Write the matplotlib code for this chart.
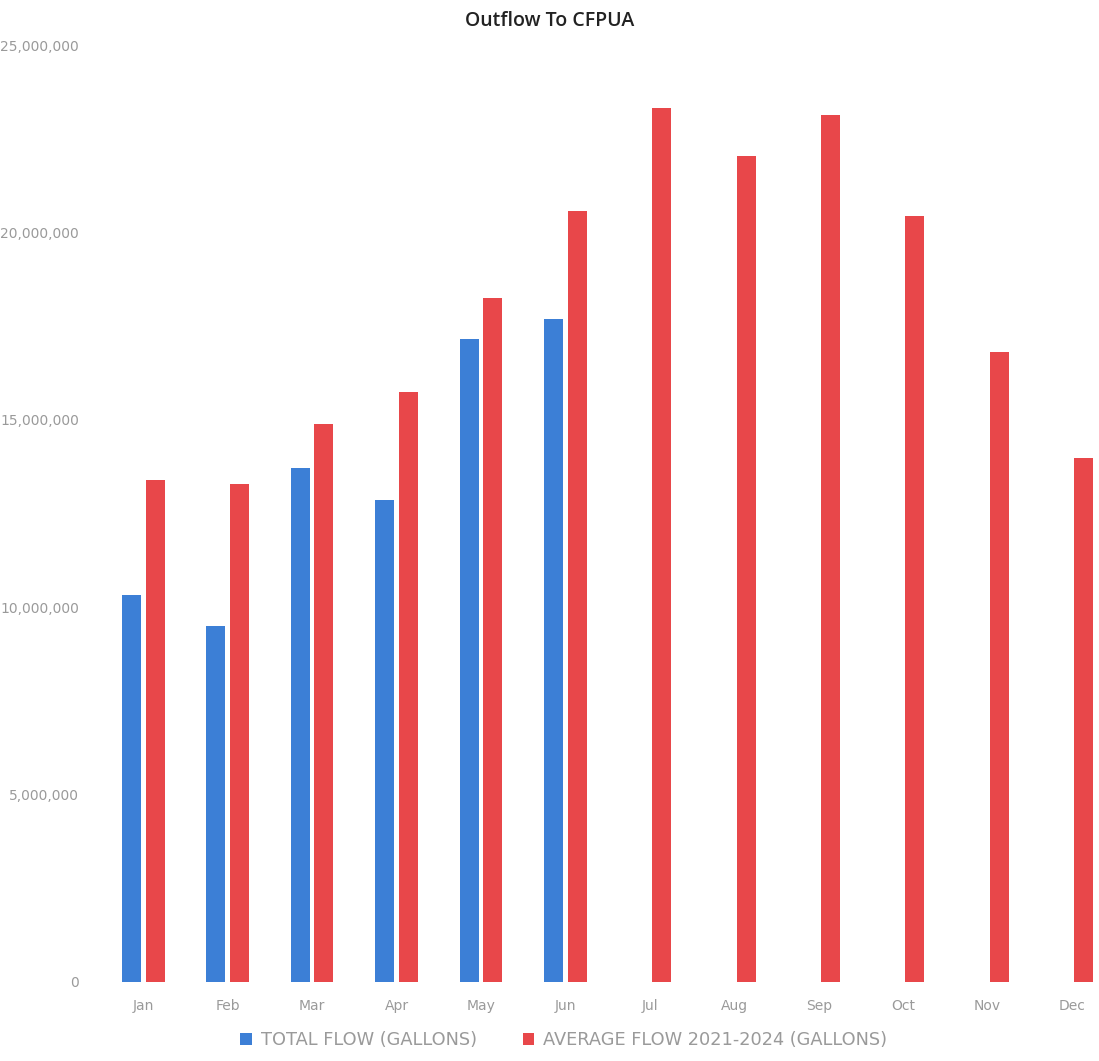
import numpy as np
import matplotlib
matplotlib.use('Agg')
from matplotlib import pyplot as plt
from matplotlib.ticker import FuncFormatter

months = ['Jan', 'Feb', 'Mar', 'Apr', 'May', 'Jun', 'Jul', 'Aug', 'Sep', 'Oct', 'Nov', 'Dec']
total_flow = [10.32e6, 9.49e6, 13.72e6, 12.86e6, 17.17e6, 17.70e6]
avg_flow = [13.40e6, 13.29e6, 14.89e6, 15.75e6, 18.26e6, 20.56e6,
            23.32e6, 22.03e6, 23.13e6, 20.45e6, 16.82e6, 13.98e6]

blue = '#3c7fd6'
red = '#e8474a'
grey = '#9a9a9a'

fig = plt.figure(figsize=(10.99, 10.61), dpi=100)
ax = fig.add_axes([0.092, 0.0745, 0.908, 0.883])

x = np.arange(len(months))
w = 0.225
off = 0.14
ax.bar(x[:len(total_flow)] - off, total_flow, w, color=blue, label='TOTAL FLOW (GALLONS)')
ax.bar(x + off, avg_flow, w, color=red, label='AVERAGE FLOW 2021-2024 (GALLONS)')

ax.set_xlim(-0.5, 11.32)
ax.set_ylim(0, 25e6)
ax.set_yticks(np.arange(0, 25e6 + 1, 5e6))
ax.yaxis.set_major_formatter(FuncFormatter(lambda v, p: f'{int(v):,}'))
ax.set_xticks(x)
ax.set_xticklabels(months)
ax.tick_params(length=0, colors=grey, labelsize=10)
ax.tick_params(axis='x', pad=12)
ax.tick_params(axis='y', pad=16)
for s in ax.spines.values():
    s.set_visible(False)

fig.suptitle('Outflow To CFPUA', y=0.99, fontsize=14, color='#222222', fontweight='semibold',
             family='Open Sans')

fig.legend(loc='lower center', bbox_to_anchor=(0.513, -0.004), ncol=2, frameon=False,
           fontsize=12.8, labelcolor=grey, handlelength=0.65, handleheight=0.65,
           columnspacing=2.6, handletextpad=0.5)

plt.savefig('out.png', dpi=100)
